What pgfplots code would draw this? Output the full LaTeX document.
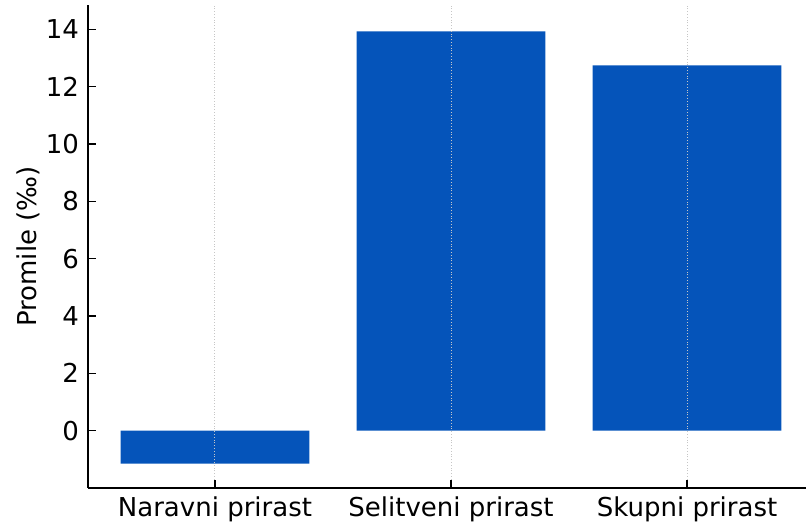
\documentclass[border=0pt]{standalone}
\usepackage{fontspec}
\setmainfont{DejaVu Sans}
\usepackage{pgfplots}
\pgfplotsset{compat=1.18}
\definecolor{barblue}{RGB}{5,84,186}
\begin{document}
\begin{tikzpicture}
\begin{axis}[
  name=ax,
  scale only axis,
  width=359pt, height=241.5pt,
  xmin=-0.538, xmax=2.504,
  ymin=-2.0, ymax=14.85,
  axis lines*=left,
  axis line style={line width=0.8pt, black},
  xtick={0,1,2},
  xticklabels={Naravni prirast, Selitveni prirast, Skupni prirast},
  ytick={0,2,4,6,8,10,12,14},
  tick align=inside,
  major tick length=4pt,
  tick style={black, line width=0.6pt},
  font=\fontsize{13}{15}\selectfont,
  ticklabel style={font=\fontsize{13}{15}\selectfont},
  /pgf/number format/assume math mode=true,
  xmajorgrids,
  grid style={densely dotted, gray!45, line width=0.5pt},
  axis on top,
  ylabel={Promile (‰)},
  ylabel style={at={(axis description cs:-0.0836,0.5)}, anchor=center},
  xticklabel style={yshift=-1pt},
  yticklabel style={xshift=-1pt},
]
\addplot[ybar, bar width=0.8, fill=barblue, draw=none] coordinates {
  (0,-1.15) (1,13.93) (2,12.74)
};
\end{axis}
\pgfresetboundingbox
\useasboundingbox ([xshift=-44pt,yshift=-18pt]ax.south west) rectangle ([yshift=2.5pt]ax.north east);
\end{tikzpicture}
\end{document}
